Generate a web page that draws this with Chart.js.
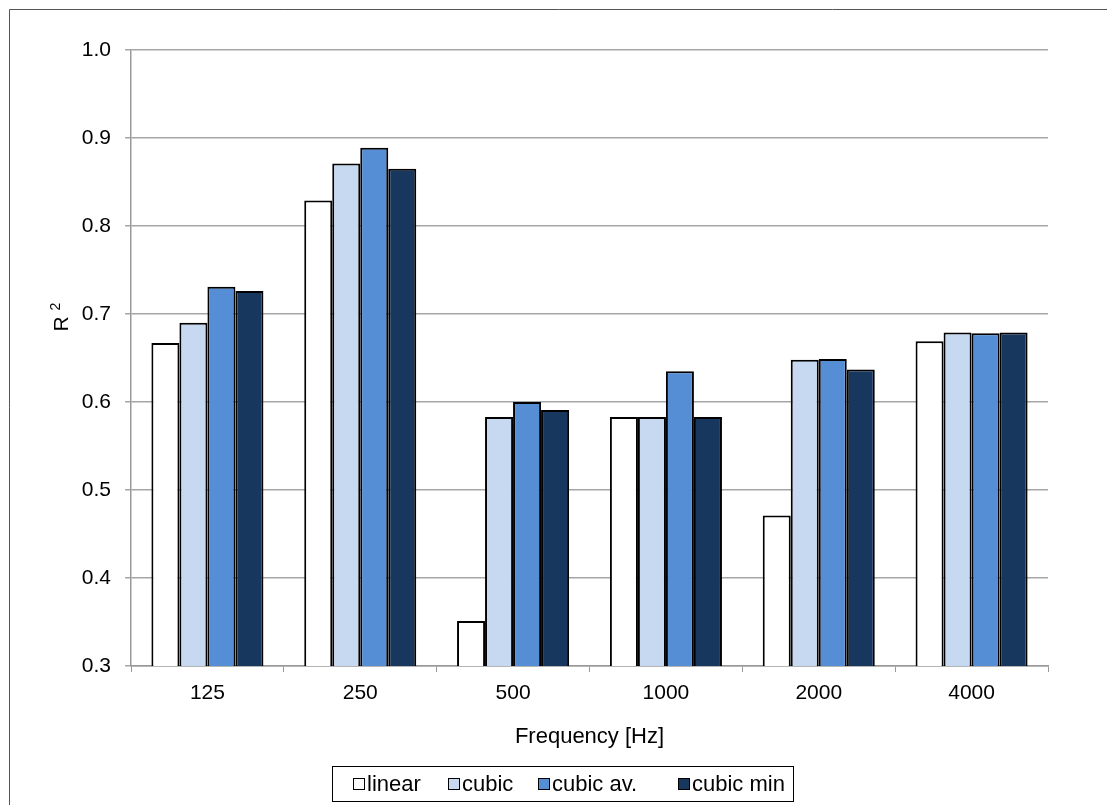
<!DOCTYPE html>
<html>
<head>
<meta charset="utf-8">
<script src="https://cdn.jsdelivr.net/npm/chart.js@4.4.1/dist/chart.umd.min.js"></script>
<style>
  html, body { margin: 0; padding: 0; background: #fff; }
  #wrap { position: relative; width: 1107px; height: 805px; }
</style>
</head>
<body>
<div id="wrap"><canvas id="c"></canvas></div>
<script>
const categories = ['125', '250', '500', '1000', '2000', '4000'];
const linearVals   = [0.667, 0.829, 0.351, 0.583, 0.471, 0.669];
const cubicVals    = [0.690, 0.871, 0.583, 0.583, 0.648, 0.679];
const cubicAvVals  = [0.731, 0.889, 0.600, 0.635, 0.649, 0.678];
const cubicMinVals = [0.726, 0.865, 0.591, 0.583, 0.637, 0.679];
const seriesNames  = ['linear', 'cubic', 'cubic av.', 'cubic min'];
const seriesColors = ['#FFFFFF', '#C6D9F1', '#558ED5', '#17375E'];
const yTickMin = 0.3, yTickMax = 1.0, yTickStep = 0.1;

const FONT = 'Arial, "Liberation Sans", sans-serif';
const FS = 21;
const FS2 = 22;

const decorPlugin = {
  id: 'decor',
  afterDraw(chart) {
    const ctx = chart.ctx;
    ctx.save();
    ctx.strokeStyle = '#555';
    ctx.lineWidth = 1;
    ctx.beginPath();
    ctx.moveTo(9.5, 805);
    ctx.lineTo(9.5, 9.5);
    ctx.lineTo(1107, 9.5);
    ctx.stroke();

    ctx.fillStyle = '#000';
    ctx.translate(68, 317);
    ctx.rotate(-Math.PI / 2);
    ctx.textBaseline = 'alphabetic';
    ctx.textAlign = 'left';
    ctx.font = FS + 'px ' + FONT;
    const rW = ctx.measureText('R ').width;
    ctx.fillText('R ', -rW / 2 - 4, 0);
    ctx.font = '14px ' + FONT;
    ctx.fillText('2', rW / 2 - 4, -8);
    ctx.restore();

    ctx.save();
    const bx = 332, by = 766, bw = 461, bh = 35;
    ctx.strokeStyle = '#000';
    ctx.lineWidth = 1;
    ctx.strokeRect(bx + 0.5, by + 0.5, bw, bh);
    const itemX = [353, 448, 538, 678];
    ctx.font = FS2 + 'px ' + FONT;
    ctx.textBaseline = 'middle';
    ctx.textAlign = 'left';
    seriesNames.forEach((name, i) => {
      const x = itemX[i];
      const y = 778;
      ctx.fillStyle = seriesColors[i];
      ctx.fillRect(x, y, 12, 12);
      ctx.strokeStyle = '#000';
      ctx.strokeRect(x + 0.5, y + 0.5, 11, 11);
      ctx.fillStyle = '#000';
      ctx.fillText(name, x + 14, 785);
    });
    ctx.restore();
  }
};

const datasets = [linearVals, cubicVals, cubicAvVals, cubicMinVals].map((vals, i) => ({
  label: seriesNames[i],
  data: vals,
  backgroundColor: seriesColors[i],
  borderColor: '#000',
  borderWidth: 2,
  categoryPercentage: 0.733,
  barPercentage: 1.0
}));

new Chart(document.getElementById('c'), {
  type: 'bar',
  data: { labels: categories, datasets },
  options: {
    responsive: true,
    maintainAspectRatio: false,
    animation: false,
    layout: { padding: { left: 0, top: 50, right: 59, bottom: 49 } },
    plugins: { legend: { display: false }, tooltip: { enabled: false } },
    scales: {
      x: {
        offset: true,
        grid: { display: true, drawOnChartArea: false, drawTicks: true, tickLength: 6, color: '#999', lineWidth: 1, offset: true },
        border: { display: true, color: '#999', width: 1.5 },
        ticks: { color: '#000', font: { family: FONT, size: FS }, padding: 9, maxRotation: 0 },
        title: { display: true, text: 'Frequency [Hz]', color: '#000', font: { family: FONT, size: FS2 }, padding: { top: 0, bottom: 6 } },
        afterFit(scale) { scale.height = 90; }
      },
      y: {
        min: yTickMin,
        max: yTickMax,
        ticks: {
          stepSize: yTickStep,
          color: '#000',
          font: { family: FONT, size: FS },
          padding: 14,
          callback: v => Number(v).toFixed(1)
        },
        grid: { color: '#a6a6a6', lineWidth: 1.5, drawTicks: true, tickLength: 6 },
        border: { display: true, color: '#999', width: 1.5 },
        afterFit(scale) { scale.width = 131; }
      }
    }
  },
  plugins: [decorPlugin]
});
</script>
</body>
</html>
